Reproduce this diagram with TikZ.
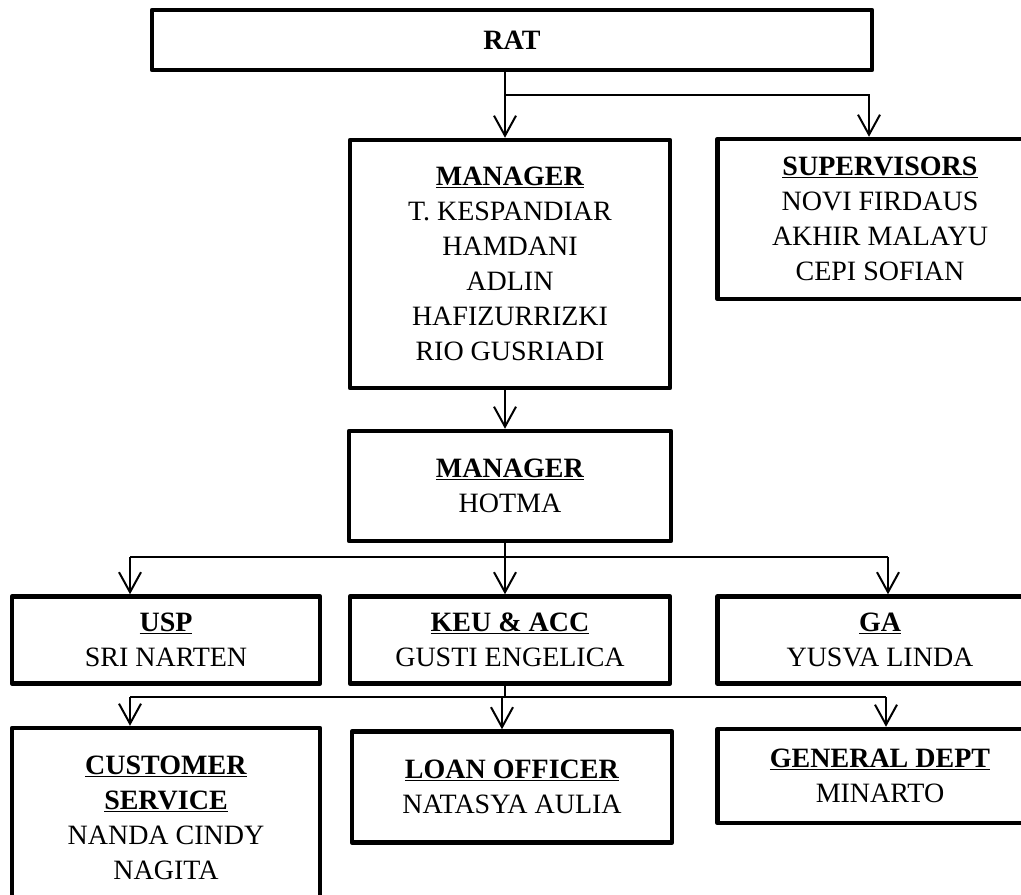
\documentclass[tikz,border=0pt]{standalone}
\usepackage{fontspec}
\setmainfont{Liberation Serif}
\usetikzlibrary{arrows.meta,positioning}

\newcommand{\boxtitle}[1]{\underline{\textbf{#1}}}

\begin{document}
\begin{tikzpicture}[
  x=1pt, y=-1pt,
  box/.style={draw, line width=4.5pt, line join=round, align=center, inner sep=0pt,
    font=\fontsize{28}{35}\selectfont},
  arrow/.style={-{Straight Barb[length=20pt, width=22pt, line width=2pt]}, line width=1.8pt}
]
\clip (0,0) rectangle (1021,895);
\fill[white] (0,0) rectangle (1021,895);

% top level
\node[box, minimum width=720, minimum height=60] (rat) at (512,40) {\textbf{RAT}};
\node[box, minimum width=320, minimum height=248] (mgr) at (510,264)
  {\boxtitle{MANAGER}\\T. KESPANDIAR\\HAMDANI\\ADLIN\\HAFIZURRIZKI\\RIO GUSRIADI};
\node[box, minimum width=325, minimum height=160] (sup) at (880,219)
  {\boxtitle{SUPERVISORS}\\NOVI FIRDAUS\\AKHIR MALAYU\\CEPI SOFIAN};
\node[box, minimum width=322, minimum height=110] (hotma) at (510,486)
  {\boxtitle{MANAGER}\\HOTMA};

% second row
\node[box, minimum width=308, minimum height=87] (usp) at (166,640)
  {\boxtitle{USP}\\SRI NARTEN};
\node[box, minimum width=320, minimum height=87] (keu) at (510,640)
  {\boxtitle{KEU \& ACC}\\GUSTI ENGELICA};
\node[box, minimum width=325, minimum height=87] (ga) at (880,640)
  {\boxtitle{GA}\\YUSVA LINDA};

% third row
\node[box, minimum width=308, minimum height=180] (cs) at (166,818)
  {\boxtitle{CUSTOMER}\\\boxtitle{SERVICE}\\NANDA CINDY\\NAGITA};
\node[box, minimum width=320, minimum height=111] (loan) at (512,787)
  {\boxtitle{LOAN OFFICER}\\NATASYA AULIA};
\node[box, minimum width=325, minimum height=94] (gd) at (880,776)
  {\boxtitle{GENERAL DEPT}\\MINARTO};

% junctions
\coordinate (j1) at (505,95);
\coordinate (j1r) at (869,95);
\coordinate (j2) at (505,557);
\coordinate (j2l) at (130,557);
\coordinate (j2r) at (888,557);
\coordinate (j3) at (505,697);
\coordinate (j3l) at (130,697);
\coordinate (j3m) at (502,697);
\coordinate (j3r) at (886,697);

\draw[line width=1.8pt] (rat.south -| j1) -- (j1);
\draw[arrow] (j1) -- (mgr.north -| j1);
\draw[arrow] (j1) -- (j1r) -- (sup.north -| j1r);
\draw[arrow] (mgr.south -| j1) -- (hotma.north -| j1);

\draw[line width=1.8pt] (hotma.south -| j2) -- (j2);
\draw[line width=1.8pt] (j2l) -- (j2r);
\draw[arrow] (j2l) -- (usp.north -| j2l);
\draw[arrow] (j2) -- (keu.north -| j2);
\draw[arrow] (j2r) -- (ga.north -| j2r);

\draw[line width=1.8pt] (keu.south -| j3) -- (j3);
\draw[line width=1.8pt] (j3l) -- (j3r);
\draw[arrow] (j3l) -- (cs.north -| j3l);
\draw[arrow] (j3m) -- (loan.north -| j3m);
\draw[arrow] (j3r) -- (gd.north -| j3r);
\end{tikzpicture}
\end{document}
